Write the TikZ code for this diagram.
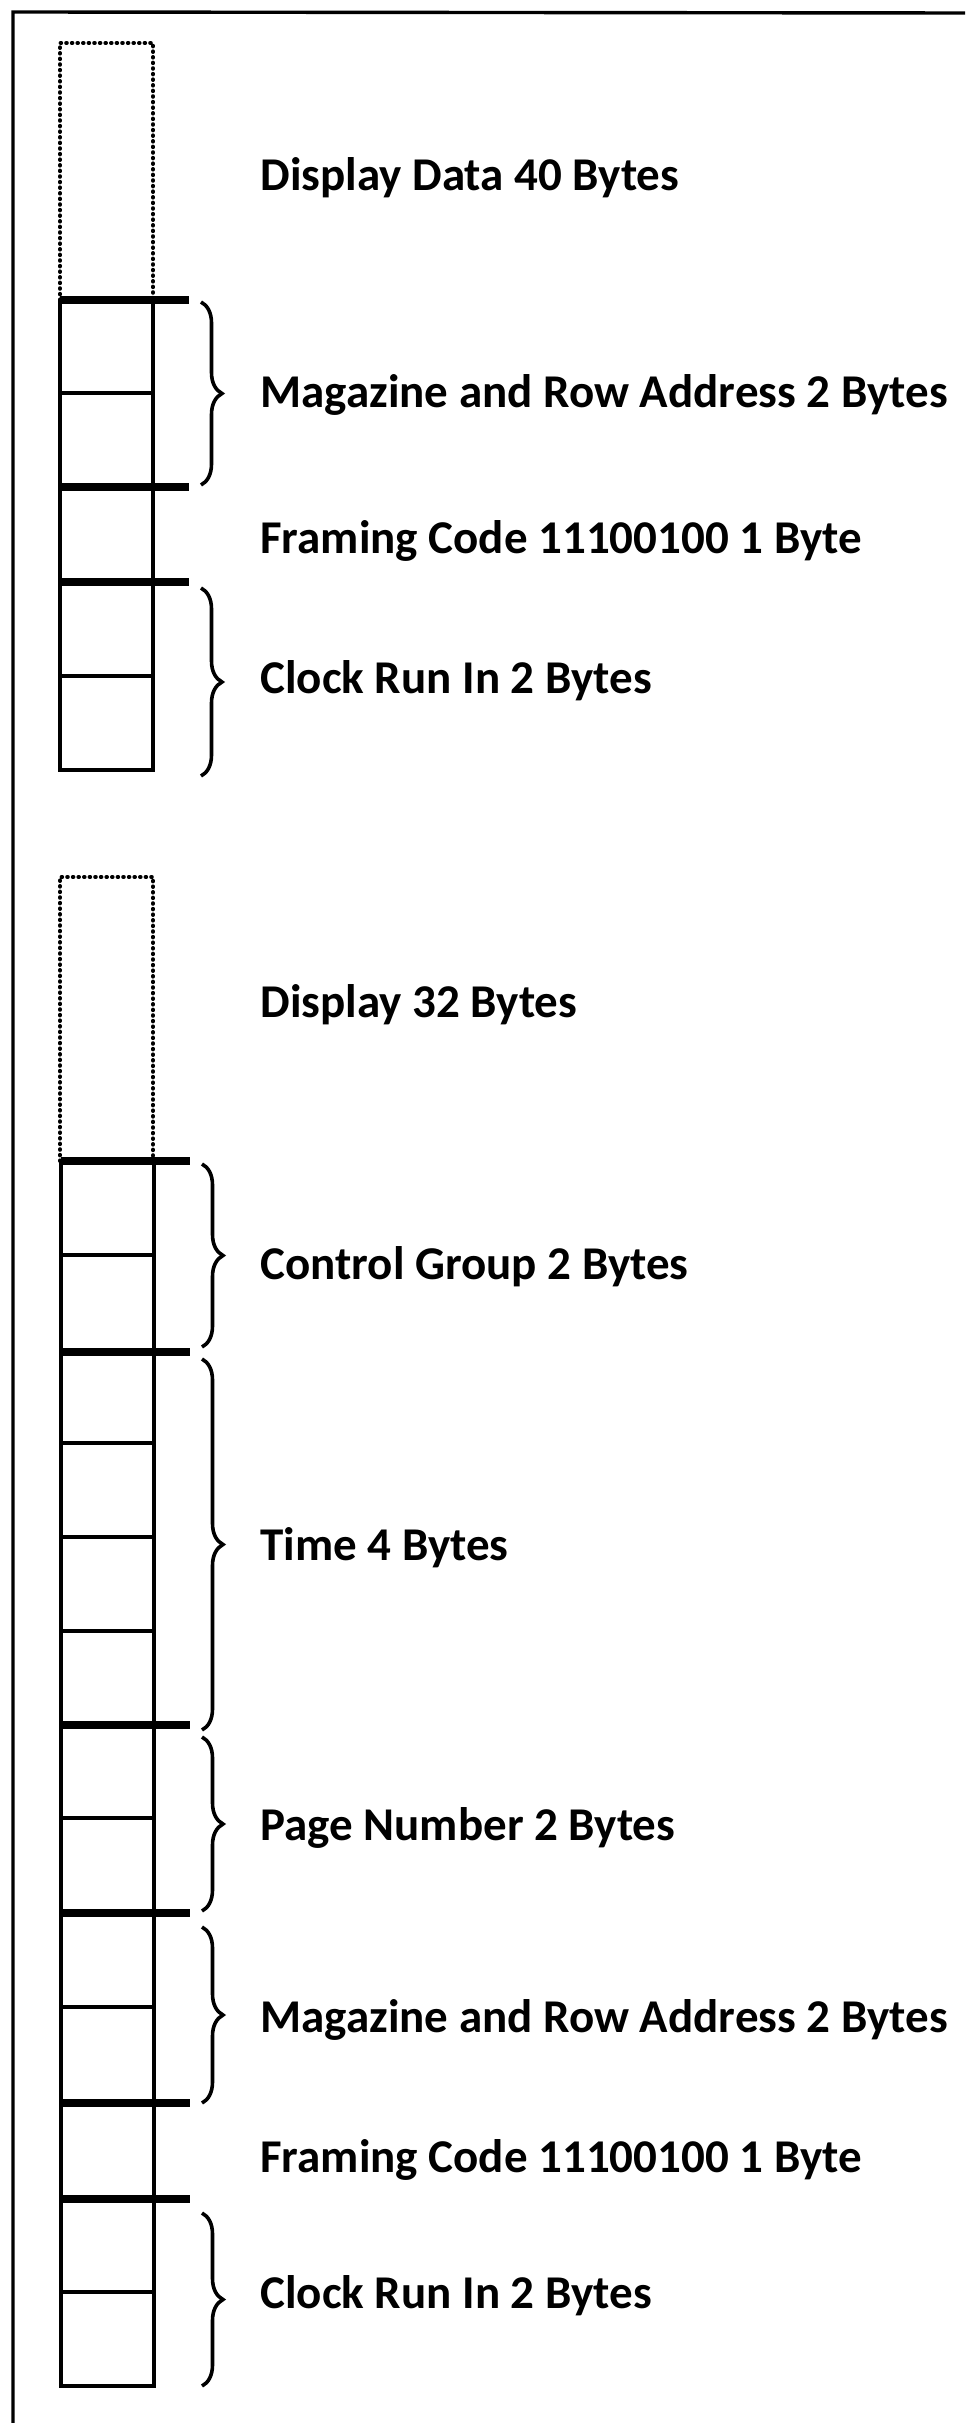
\documentclass[tikz,border=0pt]{standalone}
\usepackage{fontspec}
\setmainfont{Carlito}
\usetikzlibrary{decorations.pathreplacing}
\begin{document}
\begin{tikzpicture}[x=0.5pt,y=-0.5pt,
  frameline/.style={line width=1.7pt},
  cell/.style={line width=1.7pt},
  sepline/.style={line width=3.8pt},
  dotbox/.style={line width=2pt, dash pattern=on 0.3pt off 2.5pt, line cap=round},
  brc/.style={decorate, decoration={brace, amplitude=10.5pt, aspect=0.5}, line width=1.8pt},
  lbl/.style={anchor=base west, inner sep=0pt, font=\fontsize{23.5pt}{28pt}\selectfont\bfseries}]
\useasboundingbox (0,0) rectangle (965,2423);
% outer frame (left and top)
\coordinate (fbl) at (13,2423);
\coordinate (ftl) at (13,12);
\coordinate (ftr) at (965,13);
\draw[frameline] (fbl) -- (ftl) -- (ftr);

% ---------- upper packet ----------
\coordinate (a0) at (60,43);
\coordinate (a1) at (153,43);
\draw[dotbox] (60,300) -- (a0) -- (a1) -- (153,300);
\draw[cell] (60,300) -- (60,770) -- (153,770) -- (153,300);
\foreach \y in {393,676} \draw[cell] (60,\y) -- (153,\y);
\foreach \y in {300,487,582} \draw[sepline] (60,\y) -- (189,\y);
\draw[brc] (201,302) -- (201,485);
\draw[brc] (201,588) -- (201,776);

\node[lbl] (l1) at (260,191) {Display Data 40 Bytes};
\node[lbl] (l2) at (260,408) {Magazine and Row Address 2 Bytes};
\node[lbl] (l3) at (260,553) {Framing Code 11100100 1 Byte};
\node[lbl] (l4) at (260,693) {Clock Run In 2 Bytes};

% ---------- lower packet ----------
\coordinate (b0) at (60,877);
\coordinate (b1) at (153,877);
\draw[dotbox] (60,1161) -- (b0) -- (b1) -- (153,1161);
\draw[cell] (61,1161) -- (61,2386) -- (154,2386) -- (154,1161);
\foreach \y in {1255,1443,1537,1631,1818,2007,2292} \draw[cell] (61,\y) -- (154,\y);
\foreach \y in {1161,1352,1725,1913,2103,2199} \draw[sepline] (61,\y) -- (190,\y);
\draw[brc] (202,1164) -- (202,1347);
\draw[brc] (202,1359) -- (202,1730);
\draw[brc] (202,1737) -- (202,1911);
\draw[brc] (202,1927) -- (202,2103);
\draw[brc] (202,2213) -- (202,2386);

\node[lbl] (m1) at (260,1017) {Display 32 Bytes};
\node[lbl] (m2) at (260,1279) {Control Group 2 Bytes};
\node[lbl] (m3) at (260,1560) {Time 4 Bytes};
\node[lbl] (m4) at (260,1840) {Page Number 2 Bytes};
\node[lbl] (m5) at (260,2032) {Magazine and Row Address 2 Bytes};
\node[lbl] (m6) at (260,2172) {Framing Code 11100100 1 Byte};
\node[lbl] (m7) at (260,2308) {Clock Run In 2 Bytes};
\end{tikzpicture}
\end{document}
